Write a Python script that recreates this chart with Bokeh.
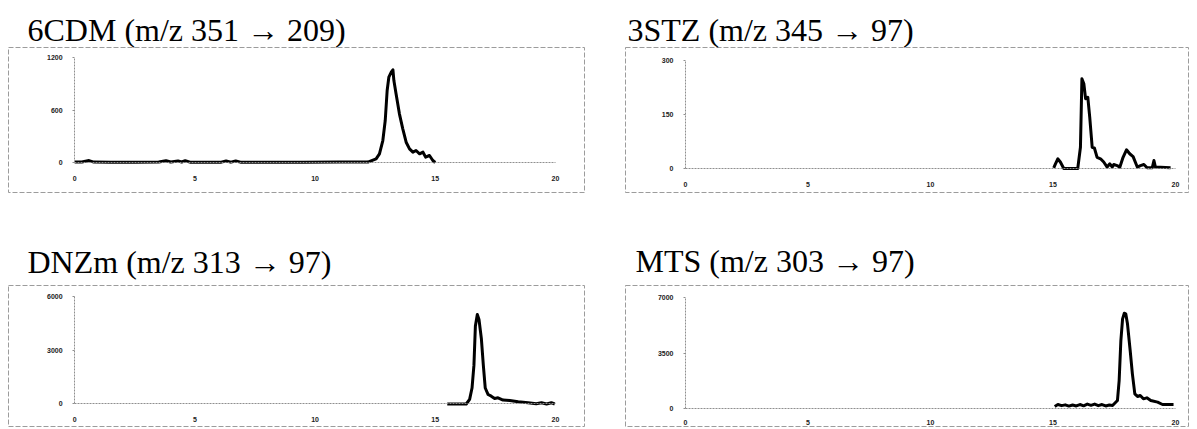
from bokeh.plotting import figure
from bokeh.models import LinearAxis, FixedTicker, Range1d
from bokeh.layouts import row, column
from bokeh.embed import file_html
from bokeh.resources import INLINE

# ---------------- data ----------------
titles = ["6CDM (m/z 351 \u2192 209)", "3STZ (m/z 345 \u2192 97)",
          "DNZm (m/z 313 \u2192 97)", "MTS (m/z 303 \u2192 97)"]

x_ticks = [0, 5, 10, 15, 20]
y_ticks_6cdm = [0, 600, 1200]
y_ticks_3stz = [0, 150, 300]
y_ticks_dnzm = [0, 3000, 6000]
y_ticks_mts = [0, 3500, 7000]

rt_6cdm = [0.0, 0.3, 0.6, 0.8, 1.5, 2.5, 3.5, 3.8, 4.0, 4.3, 4.45, 4.6, 4.8, 5.5, 6.1, 6.3, 6.5, 6.7, 6.9,
           8.0, 9.5, 11.0, 12.2, 12.54, 12.68, 12.82, 12.92, 13.0, 13.07, 13.17, 13.24, 13.28, 13.37,
           13.51, 13.65, 13.79, 13.93, 14.07, 14.2, 14.35, 14.49, 14.6, 14.76, 14.9, 15.0]
int_6cdm = [5, 5, 22, 5, 3, 4, 5, 20, 5, 18, 6, 20, 4, 3, 4, 18, 4, 18, 4,
            3, 4, 5, 5, 42, 99, 251, 480, 823, 975, 1032, 1059, 937, 785,
            556, 385, 232, 156, 118, 137, 99, 118, 61, 80, 23, 0]

rt_3stz = [15.03, 15.1, 15.2, 15.3, 15.44, 16.01, 16.12, 16.18, 16.26, 16.33, 16.42, 16.5, 16.6,
           16.69, 16.8, 16.94, 17.07, 17.21, 17.32, 17.42, 17.48, 17.62, 17.73, 17.86, 18.0, 18.13,
           18.27, 18.44, 18.57, 18.71, 18.84, 19.05, 19.12, 19.18, 19.8]
int_3stz = [2, 13, 27, 18, 0, 0, 59, 249, 235, 194, 198, 142, 59,
            57, 31, 27, 18, 4, 13, 4, 11, 8, 4, 31, 52, 41,
            33, 4, 8, 11, 2, 2, 22, 4, 2]

rt_dnzm = [15.5, 16.0, 16.29, 16.43, 16.53, 16.61, 16.67, 16.75, 16.82, 16.92, 17.0, 17.08, 17.2,
           17.33, 17.47, 17.61, 17.82, 18.1, 18.45, 18.86, 19.2, 19.42, 19.63, 19.83, 19.97]
int_dnzm = [0, 0, 0, 256, 889, 2163, 4345, 4982, 4709, 3618, 2165, 890, 527,
            436, 310, 345, 218, 200, 127, 73, 18, 73, 0, 73, 0]

rt_mts = [15.07, 15.2, 15.35, 15.5, 15.65, 15.8, 15.95, 16.1, 16.25, 16.4, 16.55, 16.7, 16.85,
          17.0, 17.15, 17.3, 17.43, 17.63, 17.7, 17.77, 17.84, 17.91, 17.97, 18.04, 18.15, 18.24,
          18.34, 18.45, 18.56, 18.69, 18.83, 18.99, 19.27, 19.47, 19.67, 19.92]
int_mts = [130, 250, 180, 230, 150, 220, 160, 250, 170, 280, 200, 280, 180,
           250, 160, 220, 189, 504, 1765, 4287, 5655, 6008, 5971, 5340, 3657, 2186,
           925, 757, 820, 610, 673, 504, 400, 252, 252, 252]

# ---------------- styling ----------------
TITLE_FONT = "Liberation Serif"
TICK_FONT = "Liberation Sans"
GREY = "#8f8f8f"


def make_panel(title, xs, ys, y_ticks, xr, yr, width, height,
               mb_left, mb_right, mb_top, mb_bottom, t_offset, t_standoff,
               x_label_standoff=7):
    p = figure(width=width, height=height,
               x_range=Range1d(*xr), y_range=Range1d(*yr),
               x_axis_location=None, y_axis_location=None,
               output_backend="svg", toolbar_location=None,
               min_border_left=mb_left, min_border_right=mb_right,
               min_border_top=mb_top, min_border_bottom=mb_bottom,
               title=title)
    p.grid.visible = False
    p.background_fill_color = "white"
    p.border_fill_color = "white"
    p.outline_line_color = "#9c9c9c"
    p.outline_line_dash = "5 2"
    p.outline_line_width = 1

    p.title.text_font = TITLE_FONT
    p.title.text_font_size = "32px"
    p.title.text_font_style = "normal"
    p.title.text_color = "black"
    p.title.align = "left"
    p.title.offset = t_offset
    p.title.standoff = t_standoff

    xa = LinearAxis(fixed_location=0, ticker=FixedTicker(ticks=x_ticks),
                    bounds=(x_ticks[0], x_ticks[-1]))
    xa.axis_line_color = GREY
    xa.axis_line_dash = "2 1"
    xa.axis_line_width = 1
    xa.major_tick_line_color = None
    xa.minor_tick_line_color = None
    xa.major_label_standoff = x_label_standoff
    xa.major_label_text_font = TICK_FONT
    xa.major_label_text_font_size = "7px"
    xa.major_label_text_font_style = "bold"
    xa.major_label_text_color = "#222222"
    p.add_layout(xa, "below")

    ya = LinearAxis(fixed_location=0, ticker=FixedTicker(ticks=y_ticks),
                    bounds=(y_ticks[0], y_ticks[-1]))
    ya.axis_line_color = GREY
    ya.axis_line_dash = "2 1"
    ya.axis_line_width = 1
    ya.major_tick_line_color = GREY
    ya.major_tick_out = 2
    ya.major_tick_in = 0
    ya.minor_tick_line_color = None
    ya.major_label_standoff = 10
    ya.major_label_text_font = TICK_FONT
    ya.major_label_text_font_size = "7px"
    ya.major_label_text_font_style = "bold"
    ya.major_label_text_color = "#222222"
    p.add_layout(ya, "left")

    p.line(xs, ys, line_color="black", line_width=3, line_join="round")
    return p


# left column: frame x 8..585 ; x=0 at 74, 24 px/unit
xr_left = (-66 / 24.0, 20 + 30 / 24.0)
# right column: frame x 625..1189 ; x=0 at 685, 24.5 px/unit
xr_right = (-60 / 24.5, 20 + 14 / 24.5)

# top row: frame y 47..192
p1 = make_panel(titles[0], rt_6cdm, int_6cdm, y_ticks_6cdm, xr_left,
                (-30 / 0.0875, 1200 + 10 / 0.0875),
                585, 208, 8, 0, 47, 16, 19, 0, x_label_standoff=7)
p2 = make_panel(titles[1], rt_3stz, int_3stz, y_ticks_3stz, xr_right,
                (-24 / 0.36, 300 + 13 / 0.36),
                604, 208, 40, 0, 47, 16, 2, 0, x_label_standoff=7)
# bottom row: frames from 282/285 down to the page bottom (427)
s3 = 110 / 6000.0
p3 = make_panel(titles[2], rt_dnzm, int_dnzm, y_ticks_dnzm, xr_left,
                (-24 / s3, 6000 + 11 / s3),
                585, 219, 8, 0, 74, 0, 19, 12, x_label_standoff=7)
s4 = 111 / 7000.0
p4 = make_panel(titles[3], rt_mts, int_mts, y_ticks_mts, xr_right,
                (-19 / s4, 7000 + 12 / s4),
                604, 219, 40, 0, 77, 0, 10, 14, x_label_standoff=5)

layout = column(row(p1, p2, spacing=0), row(p3, p4, spacing=0), spacing=0)

open("out.html", "w").write(file_html(layout, INLINE))
